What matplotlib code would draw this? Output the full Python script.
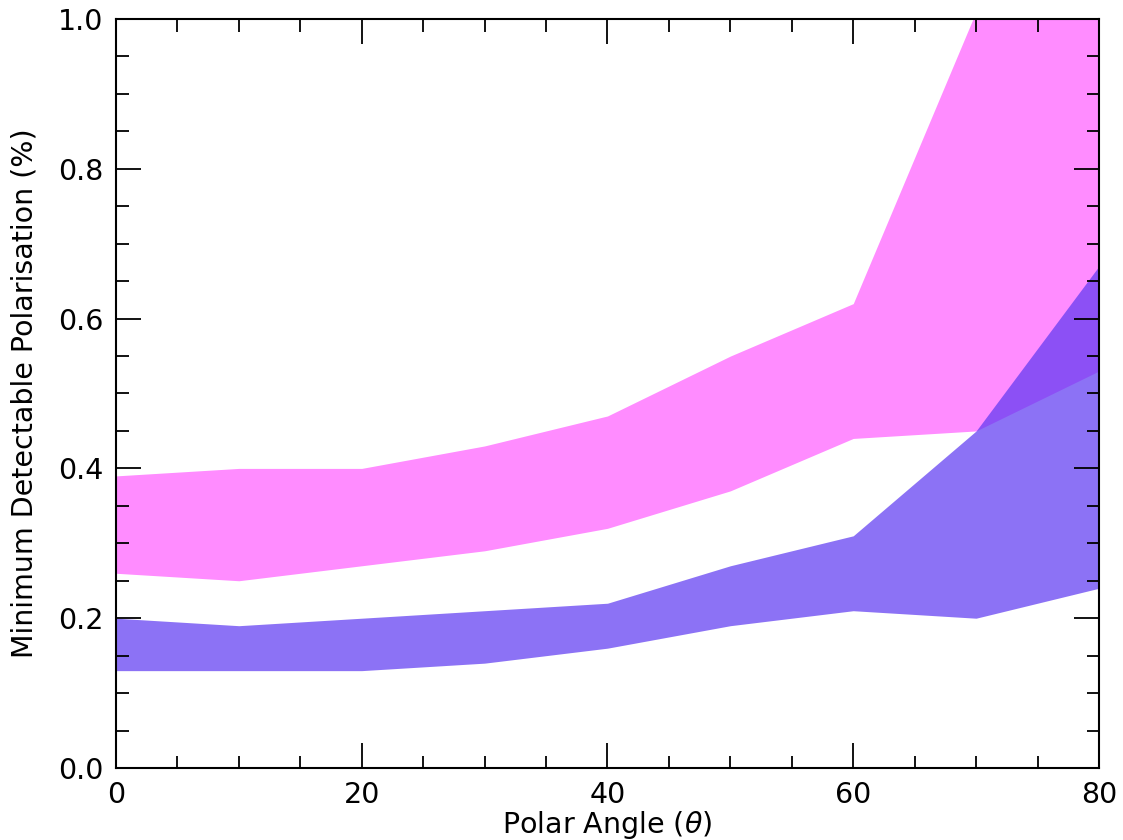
import matplotlib
matplotlib.use('Agg')
import matplotlib.pyplot as plt
from matplotlib.ticker import MultipleLocator

# polar angle samples (degrees)
theta = [0, 10, 20, 30, 40, 50, 60, 70, 80]

# upper (magenta) band
mag_lo = [0.26, 0.25, 0.27, 0.29, 0.32, 0.37, 0.44, 0.45, 0.53]
mag_hi = [0.39, 0.40, 0.40, 0.43, 0.47, 0.55, 0.62, 1.01, 1.20]

# lower (purple) band
pur_lo = [0.13, 0.13, 0.13, 0.14, 0.16, 0.19, 0.21, 0.20, 0.24]
pur_hi = [0.20, 0.19, 0.20, 0.21, 0.22, 0.27, 0.31, 0.45, 0.67]

plt.rcParams['font.size'] = 20.5

fig = plt.figure(figsize=(11.23, 8.4), dpi=100)
ax = fig.add_axes([0.1033, 0.0857, 0.8753, 0.8917])

ax.fill_between(theta, mag_lo, mag_hi, color='magenta', alpha=0.45, lw=0)
ax.fill_between(theta, pur_lo, pur_hi, color=(91/255, 55/255, 241/255), alpha=0.7, lw=0)

ax.set_xlim(0, 80)
ax.set_ylim(0, 1.0)

ax.xaxis.set_major_locator(MultipleLocator(20))
ax.xaxis.set_minor_locator(MultipleLocator(5))
ax.yaxis.set_major_locator(MultipleLocator(0.2))
ax.yaxis.set_minor_locator(MultipleLocator(0.05))

ax.tick_params(which='both', direction='in', top=True, right=True, width=1.3)
ax.tick_params(which='major', length=18, pad=9)
ax.tick_params(which='minor', length=9)
for s in ax.spines.values():
    s.set_linewidth(1.5)

ax.set_xlabel(r'Polar Angle ($\theta$)', labelpad=0)
ax.set_ylabel('Minimum Detectable Polarisation (%)', labelpad=14)

fig.savefig('out.png', dpi=100)
